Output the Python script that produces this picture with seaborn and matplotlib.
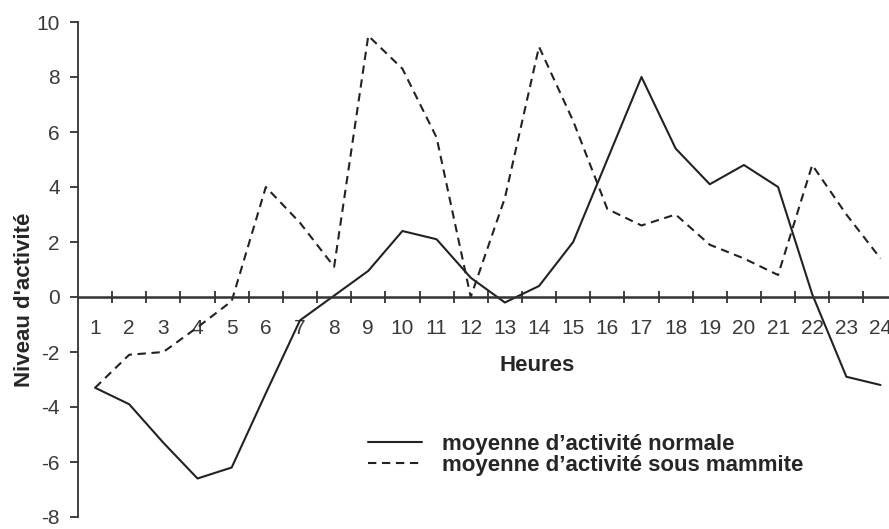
import matplotlib
matplotlib.use("Agg")
import matplotlib.pyplot as plt
import matplotlib.ticker as mticker
import numpy as np
import pandas as pd
import seaborn as sns

heures = list(range(1, 25))
normale = [-3.3, -3.9, -5.3, -6.6, -6.2, -3.5, -0.85, 0.05, 0.95, 2.4, 2.1, 0.7,
           -0.2, 0.4, 2.0, 5.0, 8.0, 5.4, 4.1, 4.8, 4.0, 0.1, -2.9, -3.2]
mammite = [-3.3, -2.1, -2.0, -1.1, -0.15, 4.0, 2.7, 1.1, 9.5, 8.3, 5.8, 0.0,
           3.6, 9.1, 6.4, 3.2, 2.6, 3.0, 1.9, 1.4, 0.8, 4.8, 3.0, 1.4]

lab_normale = "moyenne d\u2019activité normale"
lab_mammite = "moyenne d\u2019activité sous mammite"

df = pd.DataFrame({
    "Heures": heures * 2,
    "Niveau": normale + mammite,
    "Série": [lab_normale] * len(heures) + [lab_mammite] * len(heures),
})

sns.set_style("white")
plt.rcParams["font.family"] = ["Liberation Sans", "DejaVu Sans"]
plt.rcParams["axes.unicode_minus"] = False

fig = plt.figure(figsize=(8.89, 5.29), dpi=100)
# axes reaches a little past the right edge, like the original
ax = fig.add_axes([78 / 889, 1 - 517 / 529, (897.6 - 78) / 889, 495 / 529])

sns.lineplot(data=df, x="Heures", y="Niveau", style="Série", color="#222222",
             dashes={lab_normale: "", lab_mammite: (4, 2.7)},
             linewidth=1.5, legend=False, ax=ax)

ax.set_xlim(0.5, 24.5)
ax.set_ylim(-8, 10)
ax.spines["top"].set_visible(False)
ax.spines["right"].set_visible(False)
ax.spines["bottom"].set_position(("data", 0))
ax.spines["bottom"].set_linewidth(1.8)
ax.spines["bottom"].set_color("#333333")
ax.spines["left"].set_linewidth(1.3)
ax.spines["left"].set_color("#333333")

ax.set_yticks(np.arange(-8, 11, 2))
ax.xaxis.set_major_locator(mticker.FixedLocator(np.arange(1.5, 24.5, 1)))
ax.xaxis.set_major_formatter(mticker.NullFormatter())
ax.xaxis.set_minor_locator(mticker.FixedLocator(heures))
ax.xaxis.set_minor_formatter(mticker.FixedFormatter([str(h) for h in heures]))

ax.tick_params(axis="x", which="major", direction="inout", length=9, width=1.3,
               color="#333333", bottom=True)
ax.tick_params(axis="x", which="minor", length=0, pad=16, labelsize=15,
               labelcolor="#3a3a3a", bottom=True)
ax.tick_params(axis="y", direction="out", length=6, width=1.3, pad=7,
               labelsize=15, labelcolor="#3a3a3a", color="#333333", left=True)

ax.set_xlabel("Heures", fontsize=16, fontweight="bold")
ax.xaxis.set_label_coords(0.56, 0.327)
ax.set_ylabel("Niveau d'activité", fontsize=16, fontweight="bold")
ax.yaxis.set_label_coords(-0.052, 0.438)

ax.legend(ax.lines[:2], [lab_normale, lab_mammite], loc="upper left",
          bbox_to_anchor=(368 / 889, 1 - 434 / 529), bbox_transform=fig.transFigure,
          frameon=False, borderpad=0, borderaxespad=0, handlelength=2.43,
          handletextpad=0.9, labelspacing=0.0,
          prop={"size": 16, "weight": "bold"})

fig.savefig("out.png", dpi=100)
